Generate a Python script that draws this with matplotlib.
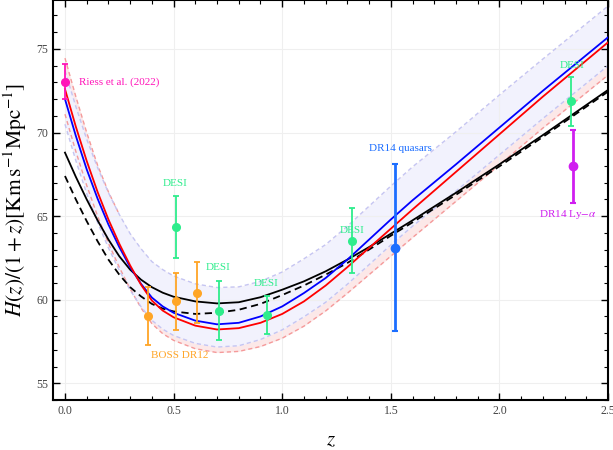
import numpy as np
import matplotlib.pyplot as plt
from matplotlib.ticker import MultipleLocator

plt.rcParams['font.family'] = ['Liberation Serif', 'DejaVu Serif']
plt.rcParams['mathtext.fontset'] = 'stix'

# ====== MODEL CURVES ======
z = [0.0, 0.05, 0.1, 0.15, 0.2, 0.25, 0.3, 0.35, 0.4, 0.45, 0.5, 0.6, 0.7,
     0.8, 0.9, 1.0, 1.1, 1.2, 1.3, 1.4, 1.5, 1.6, 1.8, 2.0, 2.2, 2.5]

h_blue = [72.0, 69.8, 67.8, 66.05, 64.5, 63.15, 61.95, 60.95, 60.13, 59.6, 59.22, 58.75, 58.53,
          58.62, 59.0, 59.6, 60.4, 61.3, 62.4, 63.6, 64.8, 65.95, 68.1, 70.3, 72.5, 75.7]
h_red = [72.6, 70.35, 68.3, 66.45, 64.8, 63.35, 62.05, 60.9, 59.95, 59.35, 58.95, 58.45, 58.22,
         58.3, 58.62, 59.15, 59.9, 60.85, 61.95, 63.1, 64.25, 65.4, 67.65, 69.9, 72.15, 75.4]
h_black = [68.8, 67.35, 66.0, 64.75, 63.6, 62.6, 61.8, 61.2, 60.75, 60.42, 60.18, 59.9, 59.78,
           59.85, 60.15, 60.6, 61.1, 61.7, 62.4, 63.15, 63.95, 64.75, 66.4, 68.1, 69.85, 72.55]
h_black_dash = [67.4, 66.0, 64.7, 63.5, 62.4, 61.5, 60.75, 60.2, 59.75, 59.47, 59.3, 59.15, 59.22,
                59.4, 59.75, 60.28, 60.85, 61.5, 62.2, 63.0, 63.83, 64.63, 66.28, 67.98, 69.74, 72.45]

blue_up = [73.7, 71.55, 69.6, 67.9, 66.4, 65.1, 63.95, 63.05, 62.28, 61.8, 61.42, 60.95, 60.73,
           60.77, 61.1, 61.66, 62.45, 63.3, 64.4, 65.6, 66.8, 67.95, 70.05, 72.25, 74.4, 77.57]
blue_lo = [70.5, 68.32, 66.35, 64.62, 63.1, 61.75, 60.57, 59.58, 58.77, 58.24, 57.86, 57.39, 57.17,
           57.25, 57.62, 58.2, 58.98, 59.85, 60.93, 62.1, 63.28, 64.4, 66.5, 68.67, 70.84, 74.0]
red_up = [74.45, 72.15, 70.0, 68.05, 66.45, 65.1, 63.95, 63.05, 62.28, 61.8, 61.42, 60.95, 60.73,
          60.77, 61.1, 61.66, 62.45, 63.3, 64.4, 65.6, 66.8, 67.95, 70.05, 72.25, 74.4, 77.57]
red_lo = [71.1, 68.87, 66.84, 65.01, 63.38, 61.94, 60.65, 59.51, 58.57, 57.97, 57.57, 57.07, 56.84,
          56.91, 57.2, 57.7, 58.42, 59.33, 60.39, 61.5, 62.61, 63.72, 65.89, 68.07, 70.27, 73.44]

# ====== DATA POINTS ======
riess_z, riess_h, riess_err = [0.0], [73.04], [1.04]
boss_z = [0.38, 0.51, 0.61]
boss_h = [59.03, 59.91, 60.43]
boss_err = [1.72, 1.7, 1.8]
desi_z = [0.51, 0.71, 0.93, 1.32, 2.33]
desi_h = [64.33, 59.35, 59.08, 63.53, 71.87]
desi_err = [1.85, 1.77, 1.15, 1.95, 1.45]
qso_z, qso_h, qso_err = [1.52], [63.1], [5.0]
lya_z, lya_h, lya_err = [2.34], [67.98], [2.2]

# ====== PLOTTING ======
fig, ax = plt.subplots(figsize=(6.13, 4.5), dpi=100)
fig.subplots_adjust(left=0.0865, right=0.992, bottom=0.111, top=0.999)

ax.fill_between(z, red_lo, red_up, color='#FCE8E8', lw=0, zorder=1)
ax.fill_between(z, blue_lo, blue_up, color='#F2F2FD', lw=0, zorder=1.1)

dash = (0, (3, 2.2))
ax.plot(z[:6], red_up[:6], color='#F59A9A', lw=1.0, ls=dash, zorder=2)
ax.plot(z, red_lo, color='#F59A9A', lw=1.0, ls=dash, zorder=2)
ax.plot(z, blue_up, color='#C5C5F2', lw=1.0, ls=dash, zorder=2.1)
ax.plot(z, blue_lo, color='#C5C5F2', lw=1.0, ls=dash, zorder=2.1)

ax.plot(z, h_black, color='black', lw=1.3, zorder=3)
ax.plot(z, h_black_dash, color='black', lw=1.3, ls=(0, (4, 2.5)), zorder=3)
ax.plot(z, h_blue, color='#0000FF', lw=1.3, zorder=3)
ax.plot(z, h_red, color='#FF0000', lw=1.3, zorder=3)

ebkw = dict(fmt='o', ms=5.5, elinewidth=1.3, capsize=2.5, capthick=1.3, zorder=4)
ax.errorbar(riess_z, riess_h, yerr=riess_err, color='#FF14B9', **ebkw)
ax.errorbar(boss_z, boss_h, yerr=boss_err, color='#FFA526', **ebkw)
ax.errorbar(desi_z, desi_h, yerr=desi_err, color='#2EED8C', **ebkw)
ax.errorbar(qso_z, qso_h, yerr=qso_err, color='#1C6EFF', fmt='o', ms=6, elinewidth=2,
            capsize=2.5, capthick=1.5, zorder=4)
ax.errorbar(lya_z, lya_h, yerr=lya_err, color='#D01EF0', fmt='o', ms=6, elinewidth=2,
            capsize=2.5, capthick=1.5, zorder=4)

# labels next to the points
fs = 8
ax.text(0.065, 73.0, 'Riess et al. (2022)', color='#FF14B9', fontsize=fs, va='center')
ax.text(0.53, 56.65, 'BOSS DR12', color='#FFA526', fontsize=fs, ha='center', va='center')
ax.text(0.507, 66.98, 'DESI', color='#2EED8C', fontsize=fs, ha='center', va='center')
ax.text(0.705, 61.95, 'DESI', color='#2EED8C', fontsize=fs, ha='center', va='center')
ax.text(0.926, 60.99, 'DESI', color='#2EED8C', fontsize=fs, ha='center', va='center')
ax.text(1.32, 64.16, 'DESI', color='#2EED8C', fontsize=fs, ha='center', va='center')
ax.text(2.335, 74.0, 'DESI', color='#2EED8C', fontsize=fs, ha='center', va='center')
ax.text(1.545, 69.07, 'DR14 quasars', color='#1C6EFF', fontsize=fs, ha='center', va='center')
ax.text(2.315, 65.12, r'DR14 Ly$-\alpha$', color='#D01EF0', fontsize=fs, ha='center', va='center')

ax.set_xlim(-0.055, 2.5)
ax.set_ylim(54.0, 77.9)
ax.xaxis.set_major_locator(MultipleLocator(0.5))
ax.xaxis.set_minor_locator(MultipleLocator(0.1))
ax.yaxis.set_major_locator(MultipleLocator(5))
ax.yaxis.set_minor_locator(MultipleLocator(1))
ax.xaxis.set_major_formatter(plt.FuncFormatter(lambda v, p: f"{v:.1f}"))
ax.tick_params(which='both', direction='in', top=True, right=True, color='black',
               labelcolor='#444444', labelsize=8.5)
ax.tick_params(which='major', length=5, width=1.0)
ax.tick_params(which='minor', length=3, width=0.8)
ax.grid(True, which='major', color='#EFEFEF', lw=0.8, zorder=0)
for s in ax.spines.values():
    s.set_linewidth(1.5)

ax.set_xlabel(r'$z$', fontsize=15, labelpad=10)
ax.set_ylabel(r'$H(z)/(1+z)[\mathrm{Km\,s^{-1}Mpc^{-1}}]$', fontsize=15.5, labelpad=5)

plt.savefig('out.png', dpi=100)
